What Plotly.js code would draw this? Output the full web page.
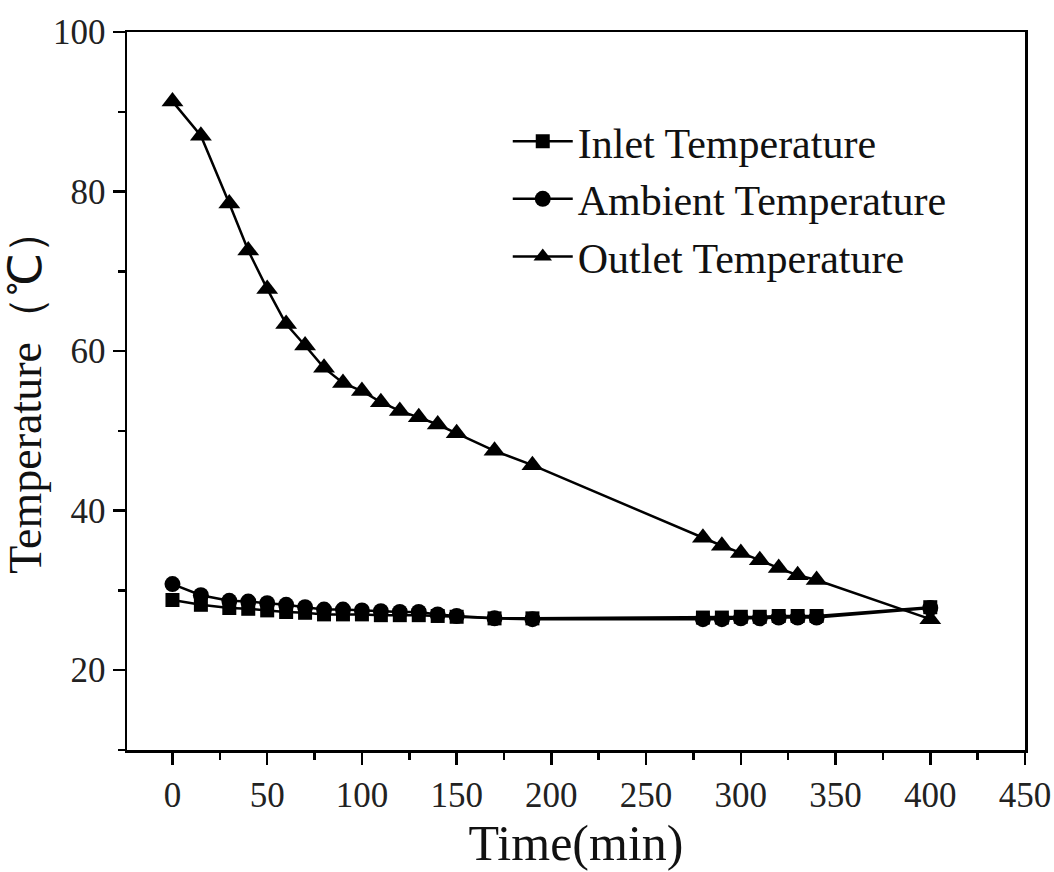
<!DOCTYPE html>
<html>
<head>
<meta charset="utf-8">
<script src="https://cdn.plot.ly/plotly-3.0.1.min.js"></script>
<style>html,body{margin:0;padding:0;background:#fff;}#chart{width:1054px;height:872px;}</style>
</head>
<body>
<div id="chart"></div>
<script>
const timeMin = [0, 15, 30, 40, 50, 60, 70, 80, 90, 100, 110, 120, 130, 140, 150, 170, 190, 280, 290, 300, 310, 320, 330, 340, 400];
const inletTemp = [28.8, 28.2, 27.8, 27.7, 27.5, 27.3, 27.2, 27.0, 27.0, 27.0, 26.9, 26.9, 26.9, 26.8, 26.7, 26.5, 26.5, 26.6, 26.6, 26.7, 26.7, 26.8, 26.8, 26.8, 27.9];
const ambientTemp = [30.8, 29.4, 28.7, 28.6, 28.4, 28.2, 27.9, 27.6, 27.6, 27.5, 27.4, 27.3, 27.3, 27.0, 26.8, 26.5, 26.4, 26.4, 26.4, 26.5, 26.5, 26.6, 26.6, 26.6, 27.8];
const outletTemp = [91.3, 87.0, 78.5, 72.6, 67.8, 63.4, 60.7, 57.9, 56.0, 55.0, 53.6, 52.5, 51.7, 50.8, 49.7, 47.5, 45.7, 36.6, 35.6, 34.7, 33.8, 32.8, 31.9, 31.3, 26.4];
const seriesNames = ["Inlet Temperature", "Ambient Temperature", "Outlet Temperature"];
const xTickVals = [0, 50, 100, 150, 200, 250, 300, 350, 400, 450];
const yTickVals = [20, 40, 60, 80, 100];

const font = "Liberation Serif, Times New Roman, serif";
const lineStyle = {color: "#000", width: 2.5};

const traces = [
  {x: timeMin, y: inletTemp, name: seriesNames[0], mode: "lines+markers", line: lineStyle,
   marker: {symbol: "square", size: 14, color: "#000"}},
  {x: timeMin, y: ambientTemp, name: seriesNames[1], mode: "lines+markers", line: lineStyle,
   marker: {symbol: "circle", size: 16, color: "#000"}},
  {x: timeMin, y: outletTemp, name: seriesNames[2], mode: "lines+markers", line: lineStyle,
   marker: {symbol: "triangle-up", size: 19, color: "#000"}}
];

const axisCommon = {
  showgrid: false, zeroline: false, showline: true, linecolor: "#000", linewidth: 2.5,
  mirror: true, ticks: "outside", ticklen: 12, tickwidth: 2.5, tickcolor: "#000",
  tickfont: {family: font, size: 35, color: "#222"}
};

const layout = {
  width: 1054, height: 872,
  margin: {l: 127, r: 29, t: 32, b: 122},
  paper_bgcolor: "#fff", plot_bgcolor: "#fff",
  showlegend: true,
  legend: {x: 0.424, y: 0.895, xanchor: "left", yanchor: "top", bgcolor: "rgba(0,0,0,0)",
           font: {family: font, size: 42, color: "#111"}, itemwidth: 60},
  xaxis: Object.assign({}, axisCommon, {
    range: [-24, 450], tickmode: "array", tickvals: xTickVals,
    minor: {dtick: 25, tick0: 0, ticklen: 7, tickwidth: 2.5, tickcolor: "#000", ticks: "outside"},
    title: {text: "Time(min)", font: {family: font, size: 50, color: "#111"}, standoff: 8}
  }),
  yaxis: Object.assign({}, axisCommon, {
    range: [10, 100], tickmode: "array", tickvals: yTickVals,
    minor: {dtick: 10, tick0: 0, ticklen: 7, tickwidth: 2.5, tickcolor: "#000", ticks: "outside"},
    title: {text: "Temperature（℃）", font: {family: font, size: 46, color: "#111"}, standoff: 4}
  })
};

Plotly.newPlot("chart", traces, layout, {displayModeBar: false, staticPlot: true});
</script>
</body>
</html>
